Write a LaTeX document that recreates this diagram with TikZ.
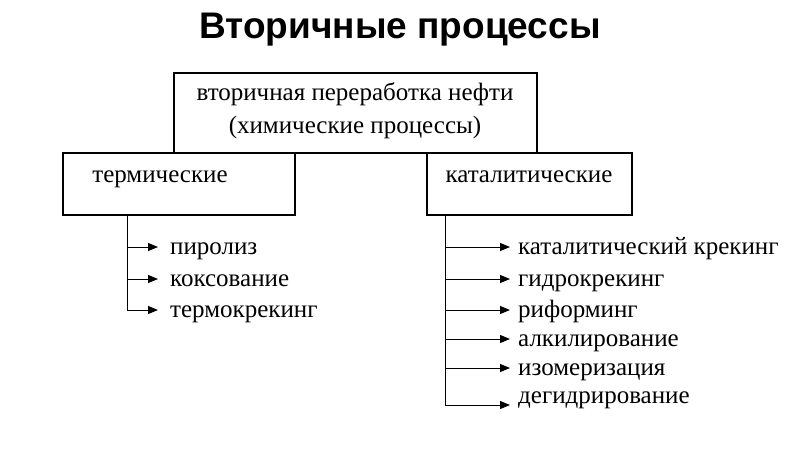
\documentclass[tikz,border=0pt]{standalone}
\usepackage{fontspec}
\setmainfont{Liberation Serif}
\newfontfamily\titlefont{Liberation Sans}
\usetikzlibrary{arrows.meta}
\begin{document}
\begin{tikzpicture}[x=1pt,y=-1pt,
  box/.style={draw,line width=1.2pt},
  lbl/.style={anchor=base west,inner sep=0pt,font=\fontsize{25}{27}\selectfont},
  arr/.style={-{Triangle[length=10pt,width=8pt]},line width=1pt},
  ln/.style={line width=1pt}]
\useasboundingbox (0,0) rectangle (800,450);
\node[font=\titlefont\bfseries\fontsize{37}{40}\selectfont] (title) at (400,30) {Вторичные процессы};
\draw[box] (174,73) rectangle (537,153);
\node[align=center,font=\fontsize{25}{33}\selectfont] (top) at (355,111) {вторичная переработка нефти\\(химические процессы)};
\draw[box] (63,153) rectangle (295,215);
\node[anchor=base,font=\fontsize{25}{27}\selectfont] (term) at (160,182) {термические};
\draw[box] (427,153) rectangle (632,215);
\node[anchor=base,font=\fontsize{25}{27}\selectfont] (kat) at (529,182) {каталитические};
% left
\coordinate (l0) at (127,215);
\coordinate (l3) at (127,310);
\draw[ln] (l0) -- (l3);
\foreach \y/\t [count=\i] in {247/пиролиз,279/коксование,310/термокрекинг}{
  \node[lbl] (lt\i) at (170,\y+7) {\t};
  \draw[arr] (127,\y) -- (158,\y);
}
% right
\coordinate (r0) at (445,215);
\coordinate (r6) at (445,405);
\draw[ln] (r0) -- (r6);
\foreach \y/\t [count=\i] in {247/каталитический крекинг,279/гидрокрекинг,310/риформинг,339/алкилирование,368/изомеризация,396/дегидрирование}{
  \node[lbl] (rt\i) at (518,\y+7) {\t};
}
\foreach \y in {247,279,310,339,368,405}{
  \draw[arr] (445,\y) -- (510,\y);
}
\end{tikzpicture}
\end{document}
